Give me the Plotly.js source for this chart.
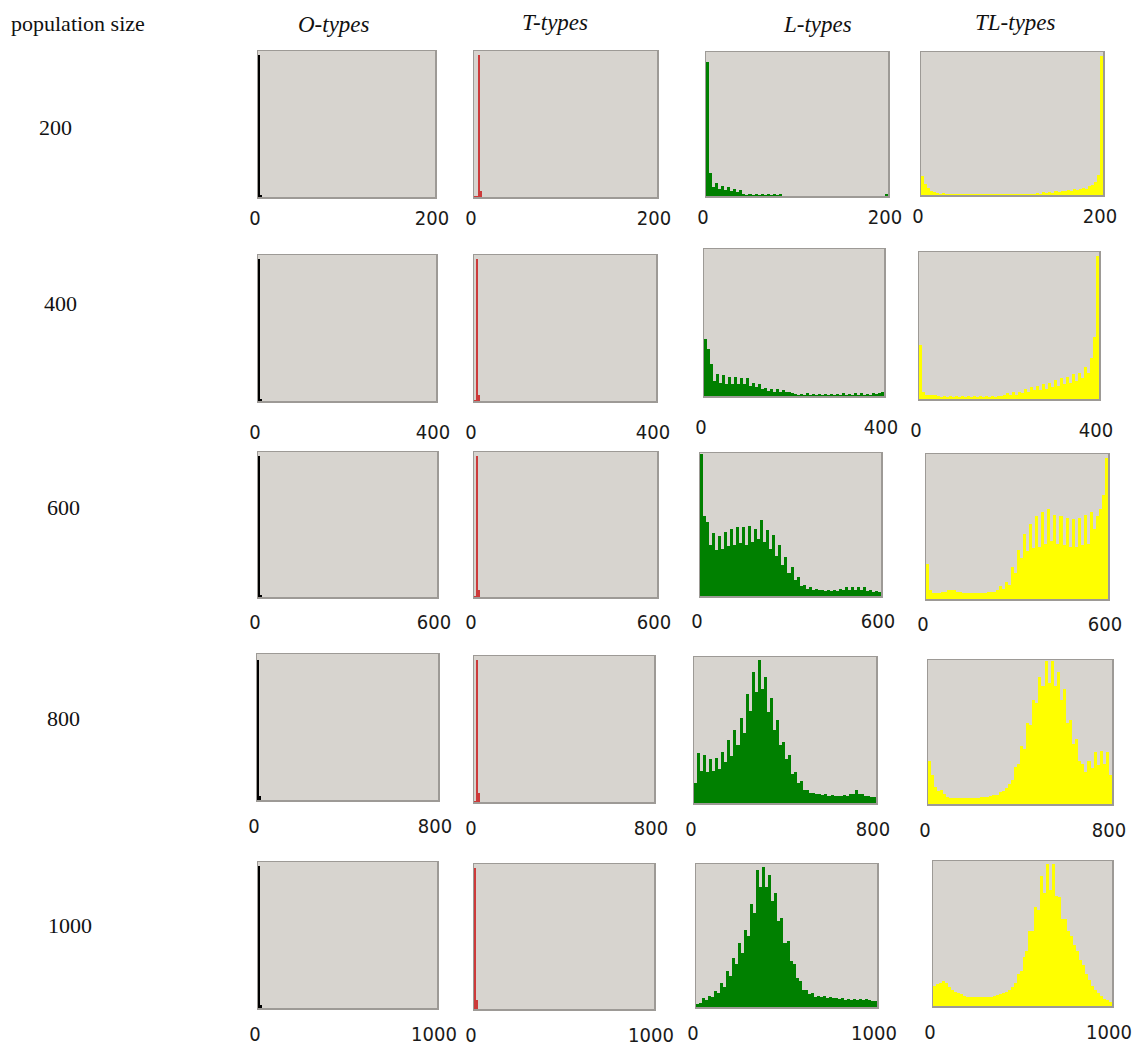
<!DOCTYPE html>
<html>
<head>
<meta charset="utf-8">
<script src="https://cdn.plot.ly/plotly-3.0.1.min.js"></script>
<style>html,body{margin:0;padding:0;background:#fff;}#chart{width:1136px;height:1053px;}</style>
</head>
<body>
<div id="chart"></div>
<script>
// ---------------- DATA ----------------
const populationSizes = [200, 400, 600, 800, 1000];
const rowLabels = ['200', '400', '600', '800', '1000'];
const typeTitles = ['O-types', 'T-types', 'L-types', 'TL-types'];
const cornerLabel = 'population size';

// Relative bar heights (% of panel height).
// O-types: spike at the very start
const oTypes200 = [97, 1.5];
const oTypes400 = [97, 1.5];
const oTypes600 = [97, 1.5];
const oTypes800 = [96, 3];
const oTypes1000 = [97, 2];

// T-types: spike near zero plus a small bump
const tTypes200 = [1, 1, 97, 4];
const tTypes400 = [1, 97, 4];
const tTypes600 = [1, 97, 5];
const tTypes800 = [0.5, 97, 6];
const tTypes1000 = [97, 6];

// L-types (60 bins across 0..N)
const lTypes200 = [93, 16, 6, 9, 5, 7, 4, 6, 3.5, 5, 3, 4.5,
  1.5, 0.5, 1.5, 0.5, 1.5, 0.5, 1.5, 0.5, 1.5, 0.5, 1.5, 0.5, 1.2,
  0, 0, 0, 0, 0, 0, 0, 0, 0, 0, 0, 0, 0, 0, 0, 0, 0, 0, 0, 0, 0, 0, 0, 0, 0,
  0, 0, 0, 0, 0, 0, 0, 0, 0, 1.5];
const lTypes400 = [39, 32, 22, 10, 15, 9, 14, 8.5, 13, 8, 13, 8, 12.5, 8, 12, 7,
  9, 6, 8, 5, 5.5, 3.5, 5, 3, 4.5, 3, 4, 2.5, 3, 2,
  1.5, 1, 1.5, 1, 2, 1, 1.5, 1, 1.5, 1, 1.5, 1, 1.5, 1, 1.5, 1, 2, 1, 1.5, 1,
  2, 1, 2, 1, 1.5, 1, 2, 1.5, 2, 2.5];
const lTypes600 = [99, 56, 52, 36, 44, 32, 42, 33, 45, 35, 47, 36, 48, 37, 48, 36,
  49, 38, 47, 40, 53, 38, 46, 33, 43, 28, 36, 22, 27, 16, 20, 11, 13, 7, 8, 5,
  6, 4.5, 5, 4, 4.5, 3.5, 4.5, 3.5, 4.5, 3.5, 5, 4, 6, 4, 6.5, 4, 6.5, 4, 6,
  3.5, 4, 3, 3.5, 3];
const lTypes800 = [14, 34, 22, 33, 21, 30, 22, 31, 23, 35, 28, 43, 32, 50, 40, 58,
  48, 75, 63, 90, 76, 98, 78, 86, 62, 72, 50, 57, 40, 42, 30, 33, 20, 21, 14, 15,
  9, 9, 7, 7, 6, 6.5, 5.5, 6, 5, 5.5, 4.5, 5, 4.5, 5.5, 5, 6.5, 6, 9, 6, 6,
  4.5, 5, 4, 4];
const lTypes1000 = [2, 3, 6, 5, 8, 7, 11, 10, 17, 14, 25, 22, 34, 30, 45, 38,
  54, 50, 72, 66, 96, 84, 98, 84, 92, 74, 80, 60, 62, 45, 46, 32, 30, 20, 18, 12,
  12, 9, 10, 7, 8, 7, 7.5, 6.5, 7, 6, 6.5, 5.5, 6, 5, 5.5, 5, 5.5, 5, 5.5, 5,
  5.5, 5, 4.5, 4];

// TL-types (60 bins across 0..N)
const tlTypes200 = [13, 8, 5, 3, 2, 1.5, 1, 1.5, 1, 1, 1,
  0.5, 0.5, 0.5, 0.5, 0.5, 0.5, 0.5, 0.5, 0.5, 0.5, 0.5, 0.5, 0.5, 0.5, 0.5,
  0.5, 0.5, 0.5, 0.5, 0.5, 0.5, 0.5, 0.5, 0.5, 0.5, 0.5, 0.5,
  1.5, 1, 2, 1.5, 2, 1.5, 2.5, 2, 3, 2.5, 3.5, 3, 4, 3.5, 4.5,
  5, 4.5, 6, 7, 9, 14, 97];
const tlTypes400 = [37, 5, 3, 2.5, 2.5, 2.5, 2, 1.5, 2, 1.5, 2, 1.5, 2, 1.5, 2,
  1.5, 2, 1.5, 2, 1.5, 2, 1.5, 2, 1.5, 2, 1.5, 2, 2,
  3, 4, 3, 5, 3, 5, 4, 7, 5, 8, 6, 9, 6, 10, 7, 11, 8, 13, 9, 14, 10,
  15, 11, 17, 12, 18, 14, 22, 18, 28, 42, 97];
const tlTypes600 = [24, 6, 4, 4, 4, 4.5, 5, 6, 6.5, 6, 5, 4.5, 4, 4, 4, 4, 4, 4,
  4, 4, 4.5, 4.5, 5, 6, 9, 7, 12, 10, 22, 18, 34, 28, 45, 33, 52, 35, 57, 36,
  60, 38, 62, 40, 58, 38, 57, 37, 56, 36, 55, 36, 56, 37, 58, 38, 60, 48, 57,
  62, 72, 97];
const tlTypes800 = [30, 20, 12, 9, 10, 7, 5, 4.5, 4, 4, 4, 4, 4, 4, 4, 4, 4.5, 5,
  5, 5, 5.5, 6, 6.5, 8, 9, 11, 14, 17, 26, 28, 40, 38, 56, 55, 72, 70, 88, 82,
  99, 84, 99, 82, 92, 72, 80, 56, 58, 42, 45, 30, 28, 22, 30, 25, 36, 27, 37,
  28, 36, 20];
const tlTypes1000 = [14, 15, 16, 17, 16, 13, 11, 10, 9, 8, 7, 6.5, 6, 6, 6, 6, 6,
  6, 6.5, 6.5, 7, 7.5, 8, 9, 10, 11, 13, 16, 22, 24, 34, 38, 52, 52, 68, 66,
  90, 78, 98, 80, 98, 76, 75, 60, 60, 52, 48, 42, 38, 32, 28, 22, 18, 14, 11,
  9, 7, 5, 4, 3];

const histByType = [
  [oTypes200, oTypes400, oTypes600, oTypes800, oTypes1000],
  [tTypes200, tTypes400, tTypes600, tTypes800, tTypes1000],
  [lTypes200, lTypes400, lTypes600, lTypes800, lTypes1000],
  [tlTypes200, tlTypes400, tlTypes600, tlTypes800, tlTypes1000]
];

// ---------------- STYLE / LAYOUT ----------------
const W = 1136, H = 1053;
const typeColors = ['#000000', '#cc3a3a', '#008000', '#ffff00'];
const spikeBinsAcross = 90; // O and T panels use narrow bins
// panel boxes in pixels [x0, x1, y0, y1] per row, per column
const panelBoxes = [
  [[258, 435, 51, 197], [474, 657, 51, 197], [706, 888, 52, 196], [921, 1103, 52, 195]],
  [[258, 436, 255, 401], [474, 656, 255, 401], [704, 884, 249, 396], [919, 1099, 252, 399]],
  [[258, 437, 452, 597], [474, 657, 452, 597], [700, 881, 453, 596], [926, 1108, 454, 599]],
  [[257, 438, 654, 800], [474, 654, 656, 802], [694, 876, 657, 803], [928, 1112, 660, 804]],
  [[258, 437, 862, 1008], [474, 654, 864, 1009], [696, 877, 864, 1007], [933, 1112, 861, 1006]]
];
const labelStandoff = [2, 12, 6, 7, 7];
const rowLabelPos = [[55, 127], [60, 303], [63, 508], [63, 718], [70, 925]];
const titlePos = [[334, 25], [555, 22], [817, 25], [1015, 22]];

const tickFont = {family: '"Liberation Sans Narrow", "DejaVu Sans Condensed", "Arial Narrow", sans-serif', size: 20, color: '#1a1a1a'};
const serif = '"Liberation Serif", "DejaVu Serif", serif';

const data = [];
const layout = {
  width: W, height: H,
  margin: {l: 0, r: 0, t: 0, b: 0},
  paper_bgcolor: '#ffffff',
  plot_bgcolor: '#d7d4cf',
  showlegend: false,
  bargap: 0,
  barmode: 'overlay',
  hovermode: false,
  annotations: []
};

for (let r = 0; r < populationSizes.length; r++) {
  const N = populationSizes[r];
  for (let c = 0; c < typeTitles.length; c++) {
    const idx = r * 4 + c + 1;
    const sfx = idx === 1 ? '' : String(idx);
    const vals = histByType[c][r];
    const nBins = c < 2 ? spikeBinsAcross : vals.length;
    const bw = N / nBins;
    const xs = vals.map((v, i) => (i + 0.5) * bw);
    data.push({
      type: 'bar', x: xs, y: vals, width: bw,
      xaxis: 'x' + sfx, yaxis: 'y' + sfx,
      marker: {color: typeColors[c], line: {width: 0}},
      hoverinfo: 'skip'
    });
    const b = panelBoxes[r][c];
    layout['xaxis' + sfx] = {
      domain: [b[0] / W, b[1] / W],
      range: [0, N],
      anchor: 'y' + sfx,
      tickvals: [0, N], ticktext: ['0', String(N)],
      ticks: '', showgrid: false, zeroline: false,
      showline: true, mirror: true, linecolor: '#9d9a96', linewidth: 1.5,
      tickfont: tickFont, ticklabelstandoff: labelStandoff[r],
      ticklabelshift: -3,
      fixedrange: true
    };
    layout['yaxis' + sfx] = {
      domain: [1 - b[3] / H, 1 - b[2] / H],
      range: [0, 100],
      anchor: 'x' + sfx,
      showticklabels: false, ticks: '', showgrid: false, zeroline: false,
      showline: true, mirror: true, linecolor: '#9d9a96', linewidth: 1.5,
      fixedrange: true
    };
  }
}

// corner label, column titles, row labels
layout.annotations.push({
  text: cornerLabel, xref: 'paper', yref: 'paper', x: 9 / W, y: 1 - 23 / H,
  xanchor: 'left', yanchor: 'middle', showarrow: false,
  font: {family: serif, size: 22, color: '#111'}
});
typeTitles.forEach((t, c) => {
  layout.annotations.push({
    text: '<i>' + t + '</i>', xref: 'paper', yref: 'paper',
    x: titlePos[c][0] / W, y: 1 - titlePos[c][1] / H,
    xanchor: 'center', yanchor: 'middle', showarrow: false,
    font: {family: serif, size: 23, color: '#111'}
  });
});
rowLabels.forEach((t, r) => {
  layout.annotations.push({
    text: t, xref: 'paper', yref: 'paper',
    x: rowLabelPos[r][0] / W, y: 1 - rowLabelPos[r][1] / H,
    xanchor: 'center', yanchor: 'middle', showarrow: false,
    font: {family: serif, size: 22, color: '#111'}
  });
});

Plotly.newPlot('chart', data, layout, {staticPlot: true, displayModeBar: false});
</script>
</body>
</html>
